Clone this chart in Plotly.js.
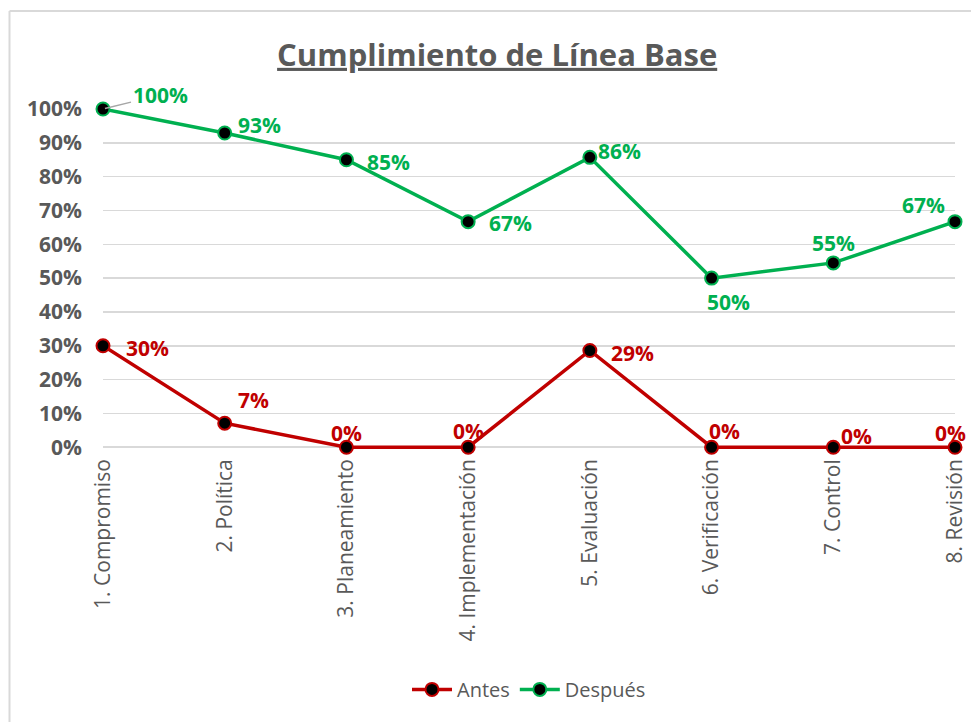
<!DOCTYPE html>
<html>
<head>
<meta charset="utf-8">
<script src="https://cdn.plot.ly/plotly-3.0.1.min.js"></script>
<style>
html,body{margin:0;padding:0;background:#fff;}
#chart{width:971px;height:722px;}
</style>
</head>
<body>
<div id="chart"></div>
<script>
// ---- data ----
const categories = ["1. Compromiso","2. Política","3. Planeamiento","4. Implementación","5. Evaluación","6. Verificación","7. Control","8. Revisión"];
const antes = [0.30, 0.071, 0, 0, 0.286, 0, 0, 0];
const despues = [1.00, 0.929, 0.85, 0.667, 0.857, 0.50, 0.545, 0.667];
const yTickVals = [0,0.1,0.2,0.3,0.4,0.5,0.6,0.7,0.8,0.9,1.0];
const yTickText = ["0%","10%","20%","30%","40%","50%","60%","70%","80%","90%","100%"];
const seriesNames = ["Antes","Después"];
const chartTitle = "Cumplimiento de Línea Base";

// ---- styling ----
const RED = "#C00000", GREEN = "#00B050", GRAY = "#595959", GRID = "#D9D9D9";
const FONT = "Open Sans, Noto Sans, sans-serif";
const W = 971, H = 722;
const Y0PX = 447, Y100PX = 109;          // pixel rows of 0% and 100%
const YMIN = -0.02;                       // small pad so the 0% line is not clipped
const unit = (Y0PX - Y100PX);             // px per 1.0
const L = 103, R = 16, T = Y100PX;
const ph = unit * (1 - YMIN);
const B = H - T - ph;
const pw = W - L - R;
const plotBottom = T + ph;
const py = p => (plotBottom - p) / ph;    // pixel row -> paper y
const px = p => (p - L) / pw;             // pixel col -> paper x

// label offsets (pixels, screen coords: +x right, +y down) for each point
const antesOff = [[44,2],[29,-23],[0,-14],[0,-16],[43,2],[13,-16],[23,-11],[-5,-14]];
const despuesOff = [[57,-14],[35,-8],[42,2],[42,1],[30,-6],[17,24],[0,-20],[-32,-17]];

const pct = v => Math.round(v*100) + "%";

function mkAnn(series, offs, color) {
  return series.map((v,i) => ({
    x: categories[i], y: v, xref: "x", yref: "y",
    text: "<b>" + pct(v) + "</b>",
    showarrow: false, xshift: offs[i][0], yshift: -offs[i][1],
    font: {family: FONT, size: 21, color: color},
    xanchor: "center", yanchor: "middle"
  }));
}

const anns = mkAnn(antes, antesOff, RED).concat(mkAnn(despues, despuesOff, GREEN));
// leader line for first "Después" label
anns[8].showarrow = true;
anns[8].ax = despuesOff[0][0]; anns[8].ay = despuesOff[0][1];
anns[8].xshift = 0; anns[8].yshift = 0;
anns[8].arrowhead = 0; anns[8].arrowwidth = 1.5; anns[8].arrowcolor = "#A6A6A6";
anns[8].standoff = 2;

const traces = [
  {x: categories, y: antes, name: seriesNames[0], type: "scatter", mode: "lines+markers",
   line: {color: RED, width: 3.5},
   marker: {color: "#000", size: 13, line: {color: RED, width: 2}}, cliponaxis: false},
  {x: categories, y: despues, name: seriesNames[1], type: "scatter", mode: "lines+markers",
   line: {color: GREEN, width: 3.5},
   marker: {color: "#000", size: 13, line: {color: GREEN, width: 2}}, cliponaxis: false}
];

const layout = {
  width: W, height: H,
  margin: {l: L, r: R, t: T, b: B, pad: 0},
  paper_bgcolor: "#fff", plot_bgcolor: "#fff",
  font: {family: FONT, color: GRAY},
  title: {text: chartTitle, x: 0.512, xanchor: "center", y: 1 - 55/H, yanchor: "middle",
          font: {family: FONT, size: 31, color: GRAY, weight: 700, lineposition: "under"}},
  xaxis: {type: "category", range: [0, categories.length - 1], showgrid: false,
          zeroline: false, showline: false, ticks: "", tickangle: -90,
          ticklabelstandoff: 16 - (plotBottom - Y0PX),
          tickfont: {family: FONT, size: 21, color: GRAY}, automargin: false,
          fixedrange: true},
  yaxis: {range: [YMIN, 1], tickvals: yTickVals, ticktext: yTickText,
          showgrid: true, gridcolor: GRID, gridwidth: 1.5, zeroline: false,
          showline: false, ticks: "", ticklabelstandoff: 20,
          tickfont: {family: FONT, size: 21, color: GRAY, weight: 700}, automargin: false,
          fixedrange: true},
  showlegend: true,
  legend: {orientation: "h", x: 0.5, xanchor: "center", y: py(689), yanchor: "middle",
           font: {family: FONT, size: 20, color: GRAY}, traceorder: "normal",
           itemwidth: 40, bgcolor: "rgba(0,0,0,0)"},
  annotations: anns,
  shapes: [
    {type: "line", xref: "paper", yref: "paper",
     x0: px(9.5), x1: px(9.5), y0: py(11), y1: py(730),
     line: {color: GRID, width: 2}},
    {type: "line", xref: "paper", yref: "paper",
     x0: px(9.5), x1: px(W+5), y0: py(11), y1: py(11),
     line: {color: GRID, width: 2}}
  ]
};

Plotly.newPlot("chart", traces, layout, {displayModeBar: false, staticPlot: true});
</script>
</body>
</html>
